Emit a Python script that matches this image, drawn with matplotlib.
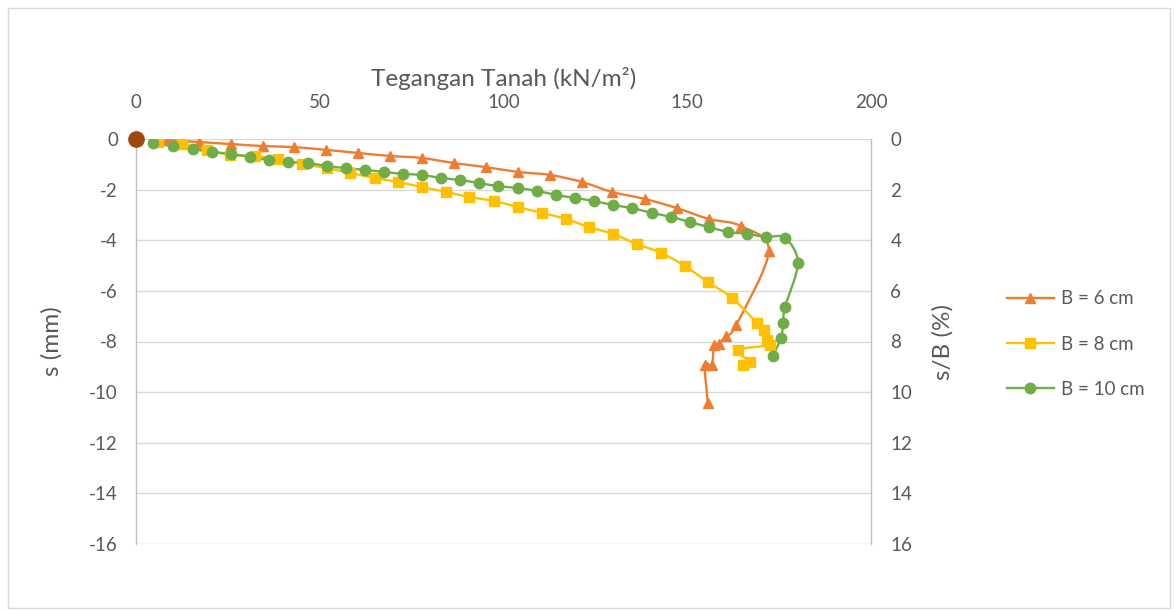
import matplotlib
matplotlib.use("Agg")
import matplotlib.pyplot as plt
from matplotlib.path import Path
from matplotlib.patches import PathPatch, Rectangle
from matplotlib.lines import Line2D
import numpy as np

plt.rcParams['font.family'] = ['Lato', 'DejaVu Sans']
plt.rcParams['axes.unicode_minus'] = False

# Soil stress (kN/m2) and settlement s (mm) for each footing width
stress_b6 = [8.4, 17.1, 25.9, 34.6, 43.0, 51.7, 60.4, 69.1, 77.8, 86.5, 95.2, 103.9,
             112.7, 121.4, 129.5, 138.5, 147.2, 155.9, 164.6, 172.2, 163.3, 160.5,
             158.6, 157.3, 156.7, 154.8, 155.6]
settle_b6 = [-0.04, -0.12, -0.20, -0.28, -0.32, -0.43, -0.55, -0.67, -0.75, -0.95, -1.11,
             -1.30, -1.42, -1.70, -2.09, -2.37, -2.73, -3.16, -3.44, -4.43, -7.35, -7.78,
             -8.10, -8.14, -8.93, -8.93, -10.43]

stress_b8 = [6.0, 12.5, 19.3, 25.6, 32.4, 38.6, 45.2, 52.0, 58.2, 65.0, 71.3, 77.8,
             84.4, 90.6, 97.4, 103.9, 110.5, 117.0, 123.3, 129.8, 136.3, 142.9, 149.4,
             155.6, 162.2, 169.0, 170.9, 171.7, 172.5, 163.8, 167.1, 165.2]
settle_b8 = [-0.12, -0.20, -0.43, -0.63, -0.67, -0.79, -0.99, -1.15, -1.34, -1.54, -1.70,
             -1.90, -2.09, -2.29, -2.45, -2.69, -2.92, -3.16, -3.48, -3.75, -4.15, -4.50,
             -5.02, -5.65, -6.28, -7.27, -7.55, -7.94, -8.14, -8.34, -8.81, -8.93]

stress_b10 = [4.6, 10.1, 15.5, 20.7, 25.9, 31.0, 36.2, 41.4, 46.8, 52.0, 57.1, 62.3,
              67.5, 72.7, 77.8, 83.0, 88.2, 93.3, 98.5, 103.9, 109.1, 114.3, 119.5,
              124.6, 129.8, 135.0, 140.4, 145.6, 150.7, 155.9, 161.1, 166.3, 171.4,
              176.6, 180.1, 176.6, 176.1, 175.5, 173.3]
settle_b10 = [-0.16, -0.28, -0.40, -0.51, -0.59, -0.71, -0.83, -0.91, -0.95, -1.07, -1.15,
              -1.22, -1.30, -1.38, -1.42, -1.54, -1.62, -1.74, -1.86, -1.94, -2.05, -2.21,
              -2.33, -2.45, -2.61, -2.73, -2.92, -3.08, -3.28, -3.48, -3.67, -3.75, -3.87,
              -3.91, -4.90, -6.64, -7.27, -7.86, -8.57]

origin_stress = [0]
origin_settle = [0]

series_labels = ["B = 6 cm", "B = 8 cm", "B = 10 cm"]
x_ticks = [0, 50, 100, 150, 200]
y_ticks_left = [0, -2, -4, -6, -8, -10, -12, -14, -16]
y_ticks_right = [0, 2, 4, 6, 8, 10, 12, 14, 16]

ORANGE = "#ED7D31"
YELLOW = "#FFC000"
GREEN = "#70AD47"
BROWN = "#9E480E"
GRID = "#D9D9D9"
TEXT = "#595959"

TICK_FS = 13.5
TITLE_FS = 17.5


def smooth_path(xs, ys):
    """Cubic Bezier path through the points (Catmull-Rom style smoothing)."""
    pts = np.column_stack([xs, ys]).astype(float)
    n = len(pts)
    verts = [pts[0]]
    codes = [Path.MOVETO]
    for i in range(n - 1):
        p0 = pts[i - 1] if i > 0 else pts[i]
        p1 = pts[i]
        p2 = pts[i + 1]
        p3 = pts[i + 2] if i + 2 < n else pts[i + 1]
        c1 = p1 + (p2 - p0) / 6.0
        c2 = p2 - (p3 - p1) / 6.0
        verts += [c1, c2, p2]
        codes += [Path.CURVE4] * 3
    return Path(verts, codes)


fig = plt.figure(figsize=(11.75, 6.10), dpi=100)
fig.patches.append(Rectangle((8 / 1175, 0.003), 1162 / 1175, 1 - 8 / 610 - 0.003,
                             transform=fig.transFigure, fill=False,
                             edgecolor="#D9D9D9", linewidth=1.0))

ax = fig.add_axes([136 / 1175, 1 - 544 / 610, (871 - 136) / 1175, (544 - 139) / 610])
ax.set_xlim(0, 200)
ax.set_ylim(-16, 0)
ax.set_xticks(x_ticks)
ax.set_yticks(y_ticks_left)
ax.xaxis.tick_top()
ax.xaxis.set_label_position("top")
ax.grid(axis="y", color=GRID, linewidth=1.0)
ax.set_axisbelow(True)
for side in ["top", "bottom"]:
    ax.spines[side].set_visible(False)
for side in ["left", "right"]:
    ax.spines[side].set_color("#BFBFBF")
    ax.spines[side].set_linewidth(1.0)
ax.tick_params(axis="both", length=0, labelsize=TICK_FS, labelcolor=TEXT)
ax.tick_params(axis="x", pad=20)
ax.tick_params(axis="y", pad=13)
ax.set_xlabel("Tegangan Tanah (kN/m²)", fontsize=TITLE_FS, color=TEXT, labelpad=6)
ax.set_ylabel("s (mm)", fontsize=TITLE_FS, color=TEXT, labelpad=19)

styles = [
    (stress_b6, settle_b6, ORANGE, "^", 7.5),
    (stress_b8, settle_b8, YELLOW, "s", 7),
    (stress_b10, settle_b10, GREEN, "o", 7.5),
]
handles = []
for (xs, ys, col, mk, ms), lab in zip(styles, series_labels):
    ax.add_patch(PathPatch(smooth_path(xs, ys), facecolor="none", edgecolor=col,
                           linewidth=1.7, zorder=3))
    ax.plot(xs, ys, linestyle="none", marker=mk, markersize=ms, color=col,
            markeredgecolor=col, zorder=4)
    handles.append(Line2D([], [], color=col, linewidth=1.7, marker=mk,
                          markersize=ms, label=lab))

ax.plot(origin_stress, origin_settle, linestyle="none", marker="o", markersize=11,
        color=BROWN, zorder=5, clip_on=False)

ax2 = ax.twinx()
ax2.set_ylim(16, 0)
ax2.set_yticks(y_ticks_right)
for side in ["top", "bottom", "left", "right"]:
    ax2.spines[side].set_visible(False)
ax2.tick_params(axis="y", length=0, labelsize=TICK_FS, labelcolor=TEXT, pad=14)
ax2.set_ylabel("s/B (%)", fontsize=TITLE_FS, color=TEXT, labelpad=14)

fig.legend(handles=handles, loc="center left", bbox_to_anchor=(990 / 1175, 1 - 344 / 610),
           frameon=False, fontsize=13.5, labelcolor=TEXT, handlelength=2.5,
           labelspacing=1.5, handletextpad=0.4)

fig.savefig("out.png", dpi=100)
